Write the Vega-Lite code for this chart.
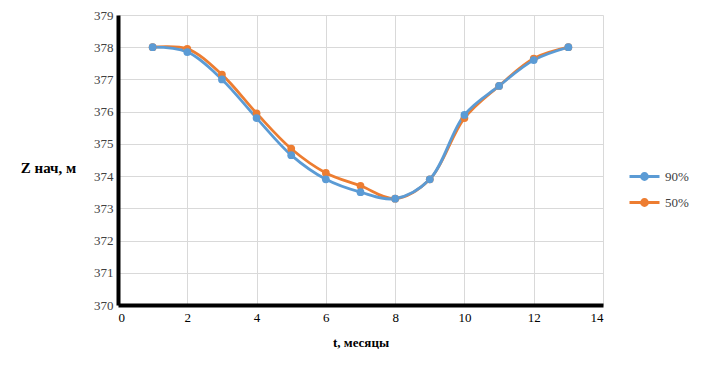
{
  "$schema": "https://vega.github.io/schema/vega-lite/v6.json",
  "width": 485,
  "height": 290,
  "autosize": "none",
  "padding": {"left": 118, "top": 15, "right": 98, "bottom": 65},
  "background": "white",
  "config": {
    "font": "DejaVu Serif",
    "view": {"stroke": null},
    "axis": {"labelFont": "Liberation Serif", "titleFont": "serif", "labelColor": "#404040", "labelFontSize": 13, "gridColor": "#d9d9d9", "gridWidth": 1, "domainColor": "black", "domainWidth": 4, "ticks": false},
    "legend": {"labelFont": "Liberation Serif"}
  },
  "data": {"values": [
    {"t": 1, "z": 378.0, "s": "50%"},
    {"t": 2, "z": 377.95, "s": "50%"},
    {"t": 3, "z": 377.15, "s": "50%"},
    {"t": 4, "z": 375.95, "s": "50%"},
    {"t": 5, "z": 374.85, "s": "50%"},
    {"t": 6, "z": 374.1, "s": "50%"},
    {"t": 7, "z": 373.7, "s": "50%"},
    {"t": 8, "z": 373.3, "s": "50%"},
    {"t": 9, "z": 373.9, "s": "50%"},
    {"t": 10, "z": 375.8, "s": "50%"},
    {"t": 11, "z": 376.8, "s": "50%"},
    {"t": 12, "z": 377.65, "s": "50%"},
    {"t": 13, "z": 378.0, "s": "50%"},
    {"t": 1, "z": 378.0, "s": "90%"},
    {"t": 2, "z": 377.85, "s": "90%"},
    {"t": 3, "z": 377.0, "s": "90%"},
    {"t": 4, "z": 375.8, "s": "90%"},
    {"t": 5, "z": 374.65, "s": "90%"},
    {"t": 6, "z": 373.9, "s": "90%"},
    {"t": 7, "z": 373.5, "s": "90%"},
    {"t": 8, "z": 373.3, "s": "90%"},
    {"t": 9, "z": 373.9, "s": "90%"},
    {"t": 10, "z": 375.9, "s": "90%"},
    {"t": 11, "z": 376.8, "s": "90%"},
    {"t": 12, "z": 377.6, "s": "90%"},
    {"t": 13, "z": 378.0, "s": "90%"}
  ]},
  "encoding": {
    "x": {"field": "t", "type": "quantitative", "scale": {"domain": [0, 14], "nice": false},
      "axis": {"values": [0, 2, 4, 6, 8, 10, 12, 14], "title": "t, месяцы", "titleFontSize": 13, "titleFontWeight": "bold", "titleColor": "black", "labelPadding": 6, "titlePadding": 12, "labelColor": "black"}},
    "y": {"field": "z", "type": "quantitative", "scale": {"domain": [370, 379], "nice": false, "zero": false},
      "axis": {"values": [370, 371, 372, 373, 374, 375, 376, 377, 378, 379], "title": "Z нач, м", "titleAngle": 0, "titleFontSize": 15, "titleFontWeight": "bold", "titleColor": "black", "titleX": -70, "titleY": 152, "titleBaseline": "middle", "titleAlign": "center", "labelPadding": 5}},
    "color": {"field": "s", "type": "nominal", "scale": {"domain": ["90%", "50%"], "range": ["#5b9bd5", "#ed7d31"]},
      "legend": {"title": null, "orient": "none", "legendX": 510, "legendY": 145, "labelFontSize": 13, "labelColor": "#404040", "symbolType": "M-1,0H1M-0.2,0A0.2,0.2 0 1,0 0.2,0A0.2,0.2 0 1,0 -0.2,0Z", "symbolStrokeWidth": 2.8, "symbolSize": 900, "labelOffset": 4, "rowPadding": -11}}
  },
  "layer": [
    {"mark": {"type": "line", "interpolate": "catmull-rom", "strokeWidth": 2.8}},
    {"mark": {"type": "point", "filled": true, "size": 60, "opacity": 1, "shape": "circle"}}
  ]
}
